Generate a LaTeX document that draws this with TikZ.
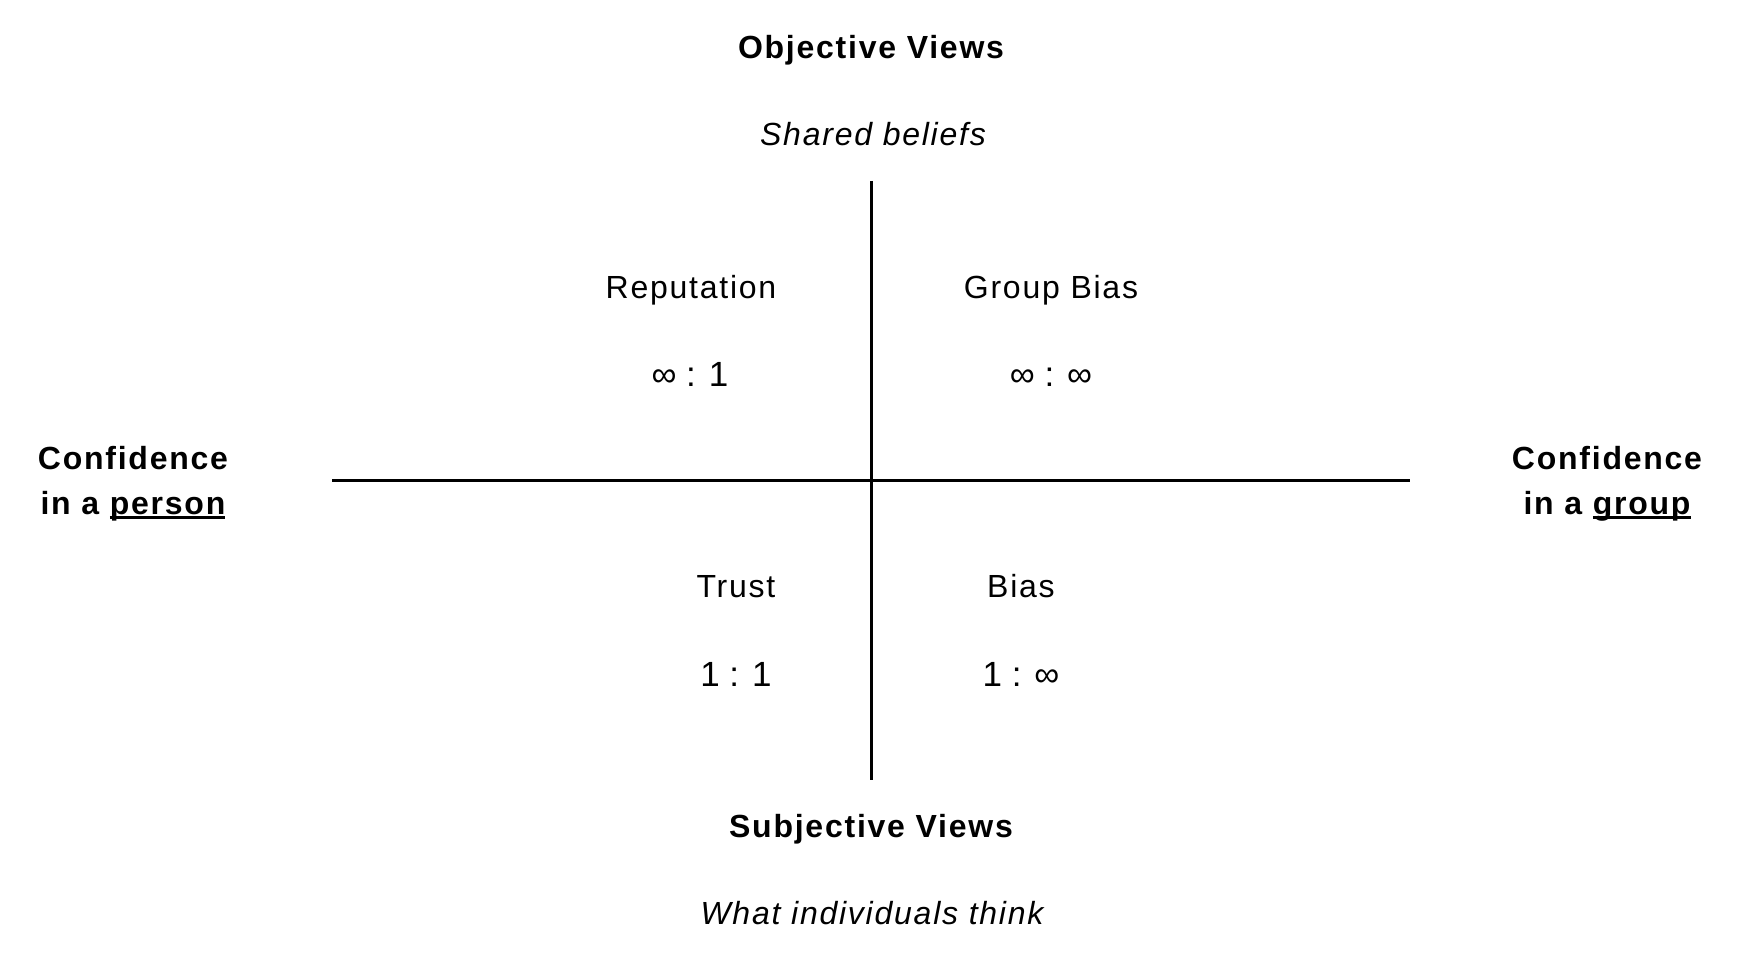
\documentclass[tikz,border=0pt]{standalone}
\usepackage{fontspec}
\setmainfont{Liberation Sans}[LetterSpace=5.5,Ligatures=NoCommon]
\newfontfamily\ratiofont{Liberation Sans}
\newcommand\ulword[1]{\leavevmode\sbox0{#1}\rlap{\rule[-5pt]{\wd0}{3pt}}#1}
\begin{document}
\begin{tikzpicture}[x=1pt,y=-1pt,
  txt/.style={anchor=base,inner sep=0pt,font=\fontsize{32}{40}\selectfont},
  ratio/.style={anchor=base,inner sep=0pt,font=\ratiofont\fontsize{35}{40}\selectfont},
  bold/.style={txt,font=\fontsize{32}{40}\selectfont\bfseries},
  ital/.style={txt,font=\fontsize{32}{40}\selectfont\itshape},
  axis/.style={line width=2.6pt}]
\useasboundingbox (0,0) rectangle (1740,960);
\node[bold] (obj) at (871,59) {Objective Views};
\node[ital] (shared) at (873,146) {Shared beliefs};
\node[bold] (subj) at (871,837) {Subjective Views};
\node[ital] (what) at (872,924) {What individuals think};
\node[bold] (lefta) at (133,469) {Confidence};
\node[bold] (leftb) at (133,514) {in a \ulword{person}};
\node[bold] (righta) at (1607,469) {Confidence};
\node[bold] (rightb) at (1607,514) {in a \ulword{group}};
\node[txt] (rep) at (691,298) {Reputation};
\node[ratio] (repr) at (690,386) {∞ : 1};
\node[txt] (gb) at (1051,298) {Group Bias};
\node[ratio] (gbr) at (1051,386) {∞ : ∞};
\node[txt] (trust) at (736,597) {Trust};
\node[ratio] (trustr) at (736,686) {1 : 1};
\node[txt] (bias) at (1021,597) {Bias};
\node[ratio] (biasr) at (1021,686) {1 : ∞};
\coordinate (vt) at (871.5,181);
\coordinate (vb) at (871.5,780);
\coordinate (hl) at (332,480.5);
\coordinate (hr) at (1410,480.5);
\draw[axis] (vt) -- (vb);
\draw[axis] (hl) -- (hr);
\end{tikzpicture}
\end{document}
